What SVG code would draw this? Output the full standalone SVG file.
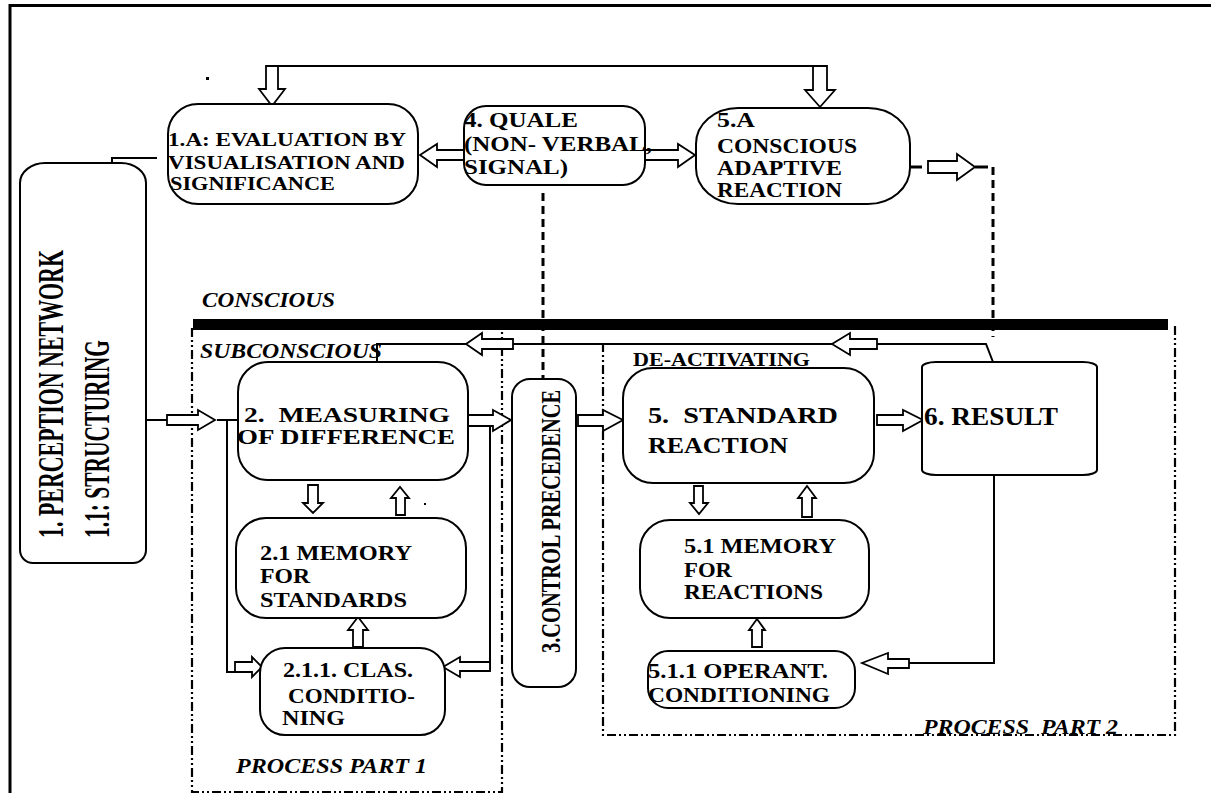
<svg xmlns="http://www.w3.org/2000/svg" width="1211" height="793" viewBox="0 0 1211 793">
<style>
.box{fill:#fff;stroke:#000;stroke-width:2}
.arr{fill:#fff;stroke:#000;stroke-width:1.8}
.ln{fill:none;stroke:#000;stroke-width:2}
.dash{fill:none;stroke:#000;stroke-width:3;stroke-dasharray:8 5}
.dd{fill:none;stroke:#000;stroke-width:2.2;stroke-dasharray:9 3 2 3 2 3}
.t{font-family:"Liberation Serif","Times New Roman",serif;font-weight:bold;fill:#000}
.i{font-style:italic}
</style>
<rect width="1211" height="793" fill="#fff"/>
<path d="M10,793 L10,5.5 L1211,5.5" fill="none" stroke="#000" stroke-width="3"/>
<g id="regions">
<rect x="193" y="319" width="975" height="11" fill="#000"/>
<path class="dd" d="M192,328 L192,792 L502,792 L502,332"/>
<path class="dd" d="M603,343 L603,735 L1175,735 L1175,323"/>
<text class="t i" x="202" y="307" font-size="20" textLength="133" lengthAdjust="spacingAndGlyphs">CONSCIOUS</text>
<text class="t i" x="200" y="358" font-size="20" textLength="182" lengthAdjust="spacingAndGlyphs">SUBCONSCIOUS</text>
<text class="t" x="633" y="366" font-size="19" textLength="177" lengthAdjust="spacingAndGlyphs">DE-ACTIVATING</text>
<text class="t i" x="236" y="773" font-size="20" textLength="191" lengthAdjust="spacingAndGlyphs">PROCESS PART 1</text>
<text class="t i" x="923" y="734" font-size="20" textLength="195" lengthAdjust="spacingAndGlyphs" xml:space="preserve">PROCESS  PART 2</text>
<rect x="206" y="77" width="3" height="3" fill="#000"/>
<rect x="424" y="503" width="2" height="2" fill="#000"/>
<rect x="358" y="520" width="2" height="2" fill="#000"/>
<rect x="575" y="591" width="2" height="3" fill="#000"/>
</g>
<g id="connectors">
<line class="ln" x1="278" y1="66" x2="813" y2="66"/>
<polygon class="arr" points="266,66 278,66 278,89 285,89 272,106 259,89 266,89"/>
<polygon class="arr" points="813,66 827,66 827,90 835,90 820,107 805,90 813,90"/>
<polygon class="arr" points="464,150 437,150 437,144 420,155 437,167 437,160 464,160"/>
<polygon class="arr" points="645,150 678,150 678,144 695,155 678,167 678,160 645,160"/>
<line x1="911" y1="167" x2="922" y2="167" stroke="#000" stroke-width="3"/>
<polygon class="arr" points="928,161 957,161 957,154 975,167 957,180 957,173 928,173"/>
<line x1="975" y1="167" x2="988" y2="167" stroke="#000" stroke-width="3"/>
<line class="dash" x1="993" y1="167" x2="993" y2="337"/>
<line class="dash" x1="543" y1="193" x2="543" y2="379"/>
<polyline class="ln" points="157,158 112,158 112,164"/>
<line class="ln" x1="147" y1="420" x2="167" y2="420"/>
<polygon class="arr" points="167,415 198,415 198,410 215,420 198,430 198,425 167,425"/>
<line class="ln" x1="217" y1="420" x2="239" y2="420"/>
<polyline class="ln" points="227,420 227,672 235,672"/>
<polygon class="arr" points="235,662 252,662 252,657 262,667 252,677 252,672 235,672"/>
<polygon class="arr" points="467,415 493,415 493,410 511,420 493,431 493,426 467,426"/>
<line class="ln" x1="490" y1="426" x2="490" y2="671"/>
<polygon class="arr" points="490,662 460,662 460,657 443,667 460,677 460,671 490,671"/>
<polygon class="arr" points="578,415 603,415 603,410 623,420 603,431 603,426 578,426"/>
<polygon class="arr" points="877,415 903,415 903,410 923,420 903,431 903,425 877,425"/>
<polyline class="ln" points="877,344 986,344 993,362"/>
<polygon class="arr" points="877,339 850,339 850,333 832,344 850,355 850,349 877,349"/>
<line class="ln" x1="513" y1="344" x2="832" y2="344"/>
<polygon class="arr" points="513,339 482,339 482,333 466,344 482,355 482,349 513,349"/>
<polyline class="ln" points="466,344 377,344 377,362"/>
<polygon class="arr" points="308,485 318,485 318,503 323,503 313,513 303,503 308,503"/>
<polygon class="arr" points="396,515 405,515 405,498 409,498 400,487 391,498 396,498"/>
<polygon class="arr" points="353,647 363,647 363,630 368,630 358,617 348,630 353,630"/>
<polygon class="arr" points="694,486 703,486 703,503 708,503 699,514 690,503 694,503"/>
<polygon class="arr" points="802,517 812,517 812,498 816,498 807,486 798,498 802,498"/>
<polygon class="arr" points="752,647 762,647 762,630 765,630 757,619 749,630 752,630"/>
<polyline class="ln" points="909,663 994,663 994,475"/>
<polygon class="arr" points="909,659 888,659 888,653 862,663 888,674 888,668 909,668"/>
</g>
<g id="n1">
<path class="box" d="M20,183 A25,20 0 0 1 45,163 L121,163 A25,20 0 0 1 146,183 L146,550 A13,13 0 0 1 133,563 L33,563 A13,13 0 0 1 20,550 Z"/>
<text class="t" transform="translate(63,538) rotate(-90)" font-size="36" textLength="288" lengthAdjust="spacingAndGlyphs">1. PERCEPTION NETWORK</text>
<text class="t" transform="translate(109,538) rotate(-90)" font-size="36" textLength="198" lengthAdjust="spacingAndGlyphs">1.1: STRUCTURING</text>
</g>
<g id="n1a">
<rect class="box" x="168" y="104" width="250" height="100" rx="30"/>
<text class="t" x="168" y="146" font-size="19" textLength="238" lengthAdjust="spacingAndGlyphs">1.A: EVALUATION BY</text>
<text class="t" x="168" y="169" font-size="19" textLength="237" lengthAdjust="spacingAndGlyphs">VISUALISATION AND</text>
<text class="t" x="170" y="190" font-size="19" textLength="165" lengthAdjust="spacingAndGlyphs">SIGNIFICANCE</text>
</g>
<g id="n4">
<rect class="box" x="464" y="106" width="181" height="79" rx="22"/>
<text class="t" x="464" y="127" font-size="20" textLength="114" lengthAdjust="spacingAndGlyphs">4. QUALE</text>
<text class="t" x="464" y="151" font-size="20" textLength="188" lengthAdjust="spacingAndGlyphs">(NON- VERBAL,</text>
<text class="t" x="464" y="174" font-size="20" textLength="104" lengthAdjust="spacingAndGlyphs">SIGNAL)</text>
</g>
<g id="n5a">
<rect class="box" x="696" y="108" width="214" height="96" rx="42" ry="36"/>
<text class="t" x="717" y="127" font-size="20" textLength="38" lengthAdjust="spacingAndGlyphs">5.A</text>
<text class="t" x="717" y="153" font-size="20" textLength="140" lengthAdjust="spacingAndGlyphs">CONSCIOUS</text>
<text class="t" x="717" y="175" font-size="20" textLength="125" lengthAdjust="spacingAndGlyphs">ADAPTIVE</text>
<text class="t" x="717" y="197" font-size="20" textLength="125" lengthAdjust="spacingAndGlyphs">REACTION</text>
</g>
<g id="n2">
<rect class="box" x="238" y="362" width="230" height="118" rx="30"/>
<text class="t" x="244" y="422" font-size="21" textLength="206" lengthAdjust="spacingAndGlyphs" xml:space="preserve">2.  MEASURING</text>
<text class="t" x="237" y="444" font-size="21" textLength="218" lengthAdjust="spacingAndGlyphs">OF DIFFERENCE</text>
</g>
<g id="n21">
<rect class="box" x="236" y="518" width="230" height="100" rx="30"/>
<text class="t" x="260" y="560" font-size="20" textLength="152" lengthAdjust="spacingAndGlyphs">2.1 MEMORY</text>
<text class="t" x="260" y="583" font-size="20" textLength="50" lengthAdjust="spacingAndGlyphs">FOR</text>
<text class="t" x="260" y="607" font-size="20" textLength="147" lengthAdjust="spacingAndGlyphs">STANDARDS</text>
</g>
<g id="n211">
<rect class="box" x="260" y="648" width="185" height="87" rx="25"/>
<text class="t" x="283" y="677" font-size="20" textLength="130" lengthAdjust="spacingAndGlyphs">2.1.1. CLAS.</text>
<text class="t" x="288" y="703" font-size="20" textLength="127" lengthAdjust="spacingAndGlyphs">CONDITIO-</text>
<text class="t" x="282" y="725" font-size="20" textLength="63" lengthAdjust="spacingAndGlyphs">NING</text>
</g>
<g id="n3">
<rect class="box" x="512" y="379" width="64" height="308" rx="18"/>
<text class="t" transform="translate(560,653) rotate(-90)" font-size="27" textLength="263" lengthAdjust="spacingAndGlyphs">3.CONTROL PRECEDENCE</text>
</g>
<g id="n5">
<rect class="box" x="623" y="368" width="251" height="115" rx="30"/>
<text class="t" x="648" y="423" font-size="23" textLength="190" lengthAdjust="spacingAndGlyphs" xml:space="preserve">5.  STANDARD</text>
<text class="t" x="648" y="453" font-size="23" textLength="140" lengthAdjust="spacingAndGlyphs">REACTION</text>
</g>
<g id="n6">
<rect class="box" x="922" y="362" width="175" height="113" rx="14" ry="5"/>
<text class="t" x="924" y="425" font-size="25" textLength="134" lengthAdjust="spacingAndGlyphs">6. RESULT</text>
</g>
<g id="n51">
<rect class="box" x="640" y="520" width="229" height="98" rx="30"/>
<text class="t" x="684" y="553" font-size="20" textLength="152" lengthAdjust="spacingAndGlyphs">5.1 MEMORY</text>
<text class="t" x="684" y="577" font-size="20" textLength="48" lengthAdjust="spacingAndGlyphs">FOR</text>
<text class="t" x="684" y="599" font-size="20" textLength="139" lengthAdjust="spacingAndGlyphs">REACTIONS</text>
</g>
<g id="n511">
<rect class="box" x="648" y="651" width="207" height="57" rx="20"/>
<text class="t" x="648" y="678" font-size="20" textLength="180" lengthAdjust="spacingAndGlyphs">5.1.1 OPERANT.</text>
<text class="t" x="648" y="702" font-size="20" textLength="182" lengthAdjust="spacingAndGlyphs">CONDITIONING</text>
</g>
</svg>
